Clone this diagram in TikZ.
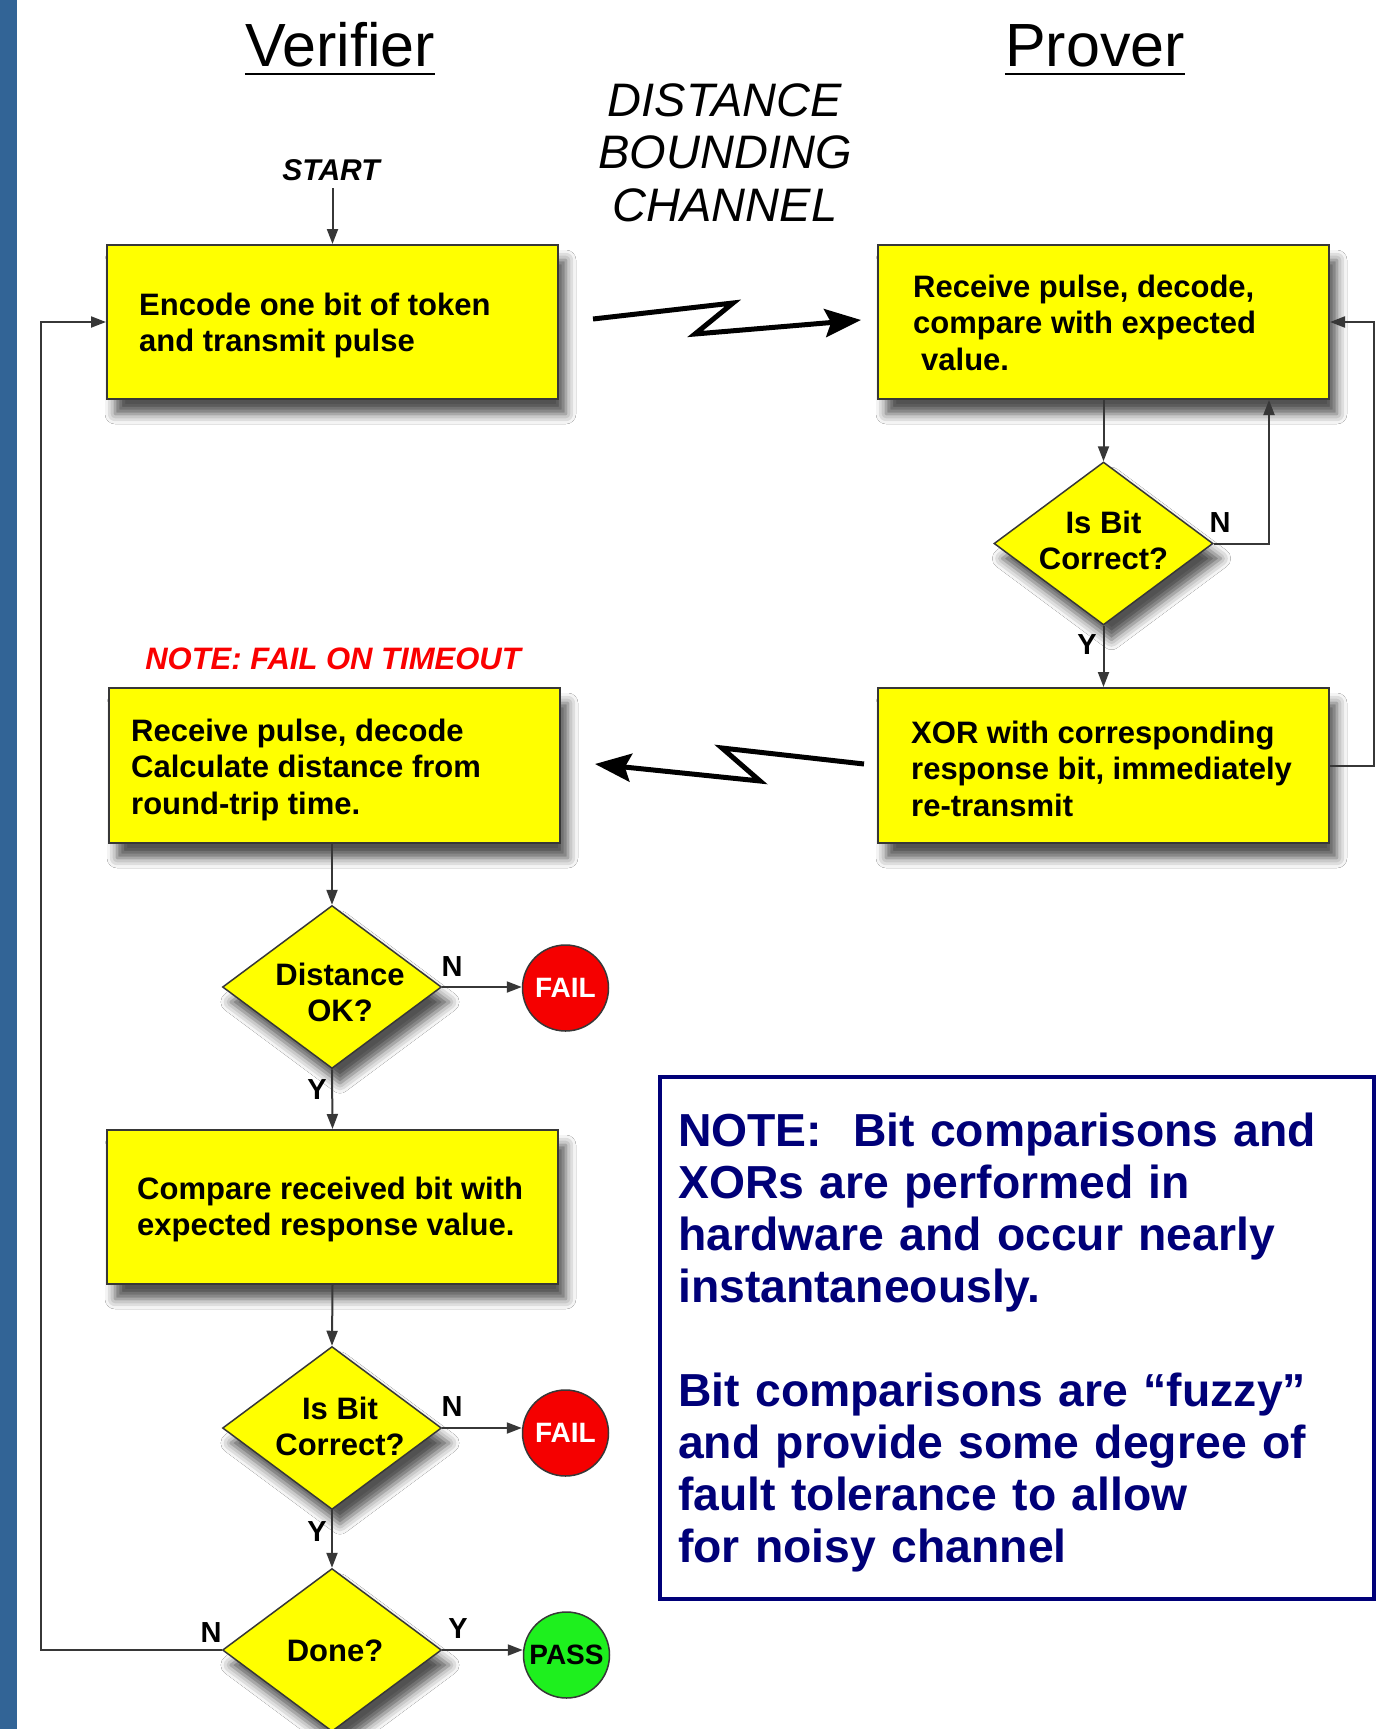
\documentclass[tikz,border=0pt]{standalone}
\usepackage{fontspec}
\setmainfont{Liberation Sans}
\usetikzlibrary{shapes.geometric,arrows.meta,calc,shadows.blur}
\definecolor{boxyellow}{RGB}{255,255,0}
\definecolor{edgegray}{RGB}{55,55,55}
\definecolor{barblue}{RGB}{50,100,150}
\definecolor{notenavy}{RGB}{0,0,120}
\definecolor{failred}{RGB}{245,0,0}
\definecolor{passgreen}{RGB}{30,240,30}
\definecolor{notered}{RGB}{250,0,0}
\begin{document}
\begin{tikzpicture}[x=1pt,y=-1pt,
  shadowed/.style={blur shadow={shadow xshift=8pt,shadow yshift=-15pt,shadow blur radius=10pt,shadow opacity=68}},
  procbox/.style={draw=edgegray,line width=2pt,fill=boxyellow,minimum width=451pt,minimum height=154pt,inner sep=0pt,shadowed},
  boxtext/.style={anchor=west,align=left,inner sep=0pt,font=\bfseries\fontsize{31}{36.5}\selectfont},
  decision/.style={diamond,draw=edgegray,line width=1.5pt,fill=boxyellow,minimum width=219pt,minimum height=163pt,shape aspect=1.34,inner sep=0pt,shadowed},
  dtext/.style={align=center,inner sep=0pt,font=\bfseries\fontsize{31}{36}\selectfont},
  endcirc/.style={circle,draw=edgegray,line width=1.5pt,minimum size=86pt,inner sep=0pt,font=\bfseries\fontsize{28}{32}\selectfont},
  conn/.style={draw=edgegray,line width=2pt,-{Triangle[length=15pt,width=11pt]}},
  zig/.style={draw=black,line width=5pt,line join=miter,-{Stealth[length=36pt,width=28pt,inset=6pt]}},
  yn/.style={font=\bfseries\fontsize{29}{32}\selectfont,inner sep=0pt},
  titletext/.style={font=\fontsize{61}{66}\selectfont,inner sep=0pt,anchor=base},
  chantext/.style={font=\itshape\fontsize{47}{52}\selectfont,inner sep=0pt,anchor=base}
]
\useasboundingbox (0,0) rectangle (1387,1729);
\fill[white] (0,0) rectangle (1387,1729);
\fill[barblue] (0,0) rectangle (17,1729);

% titles
\node[titletext] (vtitle) at (340,66.7) {Verifier};
\node[titletext] (ptitle) at (1095,66.7) {Prover};
\draw[line width=2.5pt] ($(vtitle.base west)+(0,7.5)$) -- ($(vtitle.base east)+(0,7.5)$);
\draw[line width=2.5pt] ($(ptitle.base west)+(0,7.5)$) -- ($(ptitle.base east)+(0,7.5)$);

\node[chantext] (ch1) at (725,116.7) {DISTANCE};
\node[chantext] (ch2) at (725,168.3) {BOUNDING};
\node[chantext] (ch3) at (725,221.7) {CHANNEL};

\node[font=\bfseries\itshape\fontsize{30}{34}\selectfont,inner sep=0pt,anchor=base] (start) at (331,180) {START};
\node[font=\bfseries\itshape\fontsize{31}{34}\selectfont,inner sep=0pt,anchor=base,text=notered] (timeout) at (333,669) {NOTE: FAIL ON TIMEOUT};

% process boxes
\node[procbox] (b1) at (332.5,322) {};
\node[procbox] (b2) at (1103.5,322) {};
\node[procbox,minimum height=155pt] (b3) at (1103.5,765.5) {};
\node[procbox,minimum height=155pt] (b4) at (334.5,765.5) {};
\node[procbox] (b5) at (332.5,1207) {};

\node[boxtext] (t1) at ($(b1.west)+(33,3.5)$) {Encode one bit of token\\and transmit pulse};
\node[boxtext] (t2) at ($(b2.west)+(36,0.5)$) {Receive pulse, decode,\\compare with expected\\\hspace*{8pt}value.};
\node[boxtext] (t3) at ($(b3.west)+(34,3)$) {XOR with corresponding\\response bit, immediately\\re-transmit};
\node[boxtext] (t4) at ($(b4.west)+(23,4)$) {Receive pulse, decode\\Calculate distance from\\round-trip time.};
\node[boxtext] (t5) at ($(b5.west)+(31,2.5)$) {Compare received bit with\\expected response value.};

% decisions
\node[decision] (d1) at (1103.5,543.5) {};
\node[decision] (d2) at (332,987) {};
\node[decision] (d3) at (332,1428) {};
\node[decision] (d4) at (332,1650) {};
\node[dtext] (d1t) at ($(d1.center)+(0,-3)$) {Is Bit\\Correct?};
\node[dtext] (d2t) at ($(d2.center)+(8,5)$) {Distance\\OK?};
\node[dtext] (d3t) at ($(d3.center)+(8,-2)$) {Is Bit\\Correct?};
\node[dtext] (d4t) at ($(d4.center)+(3,1)$) {Done?};

% terminals
\node[endcirc,fill=failred,text=white] (f1) at (565.5,988) {FAIL};
\node[endcirc,fill=failred,text=white] (f2) at (565.5,1433) {FAIL};
\node[endcirc,fill=passgreen,text=black] (pass) at (566.5,1655) {PASS};

% note box
\node[draw=notenavy,line width=3.5pt,minimum width=714pt,minimum height=522pt,inner sep=0pt] (notebox) at (1017,1338) {};
\node[anchor=base west,text width=690pt,align=left,inner sep=0pt,text=notenavy,font=\bfseries\fontsize{46.3}{52.1}\selectfont] (notetext) at (678,1146)
 {NOTE:\ \ Bit comparisons and\\XORs are performed in\\hardware and occur nearly\\instantaneously.\\[52.1pt]Bit comparisons are “fuzzy”\\and provide some degree of\\fault tolerance to allow\\for noisy channel};

% connectors
\coordinate (startend) at ($(b1.north)+(0,-56)$);
\draw[conn] (startend) -- (b1.north);

\coordinate (z1s) at ($(b1.east)+(34,-3)$);
\coordinate (z1t) at ($(b2.west)+(-16,-2)$);
\draw[zig] (z1s) -- (733,303) -- (695,334) -- (z1t);

\coordinate (z2s) at ($(b3.west)+(-13,-1.5)$);
\coordinate (z2t) at ($(b4.east)+(34,-1.5)$);
\draw[zig] (z2s) -- (722,748) -- (760,781) -- (z2t);

\draw[conn] (b2.south) -- (d1.north);
\coordinate (nret) at ($(b2.south east)+(-61,0)$);
\draw[conn] (d1.east) -| (nret);
\draw[conn] (d1.south) -- (b3.north);
\coordinate (rloop) at ($(b3.east)+(44,0)$);
\draw[conn] (b3.east) -- (rloop) |- (b2.east);

\draw[conn] (d2.north |- b4.south) -- (d2.north);
\draw[conn] (d2.east) -- (d2.east -| f1.west);
\draw[conn] (d2.south) -- (b5.north);
\draw[conn] (b5.south) -- (d3.north);
\draw[conn] (d3.east) -- (d3.east -| f2.west);
\draw[conn] (d3.south) -- (d4.north);
\draw[conn] (d4.east) -- (d4.east -| pass.west);
\coordinate (lloop) at ($(b1.west)+(-65,0)$);
\draw[conn] (d4.west) -| (lloop) -- (b1.west);

% Y/N labels
\node[yn] (n1) at (1220,523) {N};
\node[yn] (y1) at (1087,645) {Y};
\node[yn] (n2) at (452,967) {N};
\node[yn] (y2) at (317,1090) {Y};
\node[yn] (n3) at (452,1407) {N};
\node[yn] (y3) at (317,1532) {Y};
\node[yn] (n4) at (211,1633) {N};
\node[yn] (y4) at (458,1629) {Y};
\end{tikzpicture}
\end{document}
